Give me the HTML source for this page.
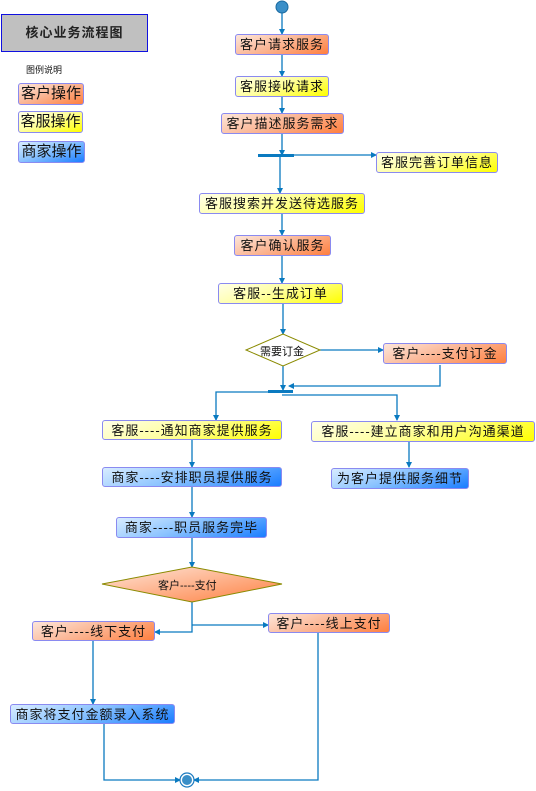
<!DOCTYPE html>
<html><head><meta charset="utf-8"><style>
body{margin:0;width:536px;height:791px;background:#fff;position:relative;overflow:hidden;font-family:"Liberation Sans","Noto Sans CJK SC",sans-serif;}
.b{position:absolute;box-sizing:border-box;border:1px solid #8a8af0;border-radius:3px;font-size:13px;line-height:19px;text-align:center;color:#111;white-space:nowrap;letter-spacing:1px;}
.o{background:linear-gradient(160deg,#fde6da 0%,#fbb898 45%,#ff7f3f 100%);}
.y{background:linear-gradient(160deg,#ffffe8 0%,#ffffa0 45%,#ffff00 100%);}
.u{background:linear-gradient(160deg,#d8ecff 0%,#8cc4ff 45%,#1a7dff 100%);}
svg{position:absolute;left:0;top:0}
.t{position:absolute;font-size:10px;color:#111;white-space:nowrap;}
.l{font-size:15px;line-height:20px;letter-spacing:0;}
</style></head><body>
<svg width="536" height="791">
<defs><marker id="a" markerWidth="6" markerHeight="6" refX="5" refY="3" orient="auto" markerUnits="userSpaceOnUse"><path d="M0,0L6,3L0,6z" fill="#0a7ac0"/></marker>
<linearGradient id="og" x1="0" y1="0" x2="1" y2="1"><stop offset="0" stop-color="#fde6da"/><stop offset="1" stop-color="#ff7f3f"/></linearGradient></defs>
<g stroke="#0a7ac0" stroke-width="1.3" fill="none">
<line x1="282" y1="13" x2="282" y2="34" marker-end="url(#a)"/>
<line x1="282" y1="55" x2="282" y2="76" marker-end="url(#a)"/>
<line x1="282" y1="97" x2="282" y2="113" marker-end="url(#a)"/>
<line x1="282" y1="134" x2="282" y2="155" marker-end="url(#a)"/>
<line x1="294" y1="155" x2="376" y2="155" marker-end="url(#a)"/>
<line x1="280" y1="157" x2="280" y2="193" marker-end="url(#a)"/>
<line x1="282" y1="214" x2="282" y2="235" marker-end="url(#a)"/>
<line x1="282" y1="256" x2="282" y2="283" marker-end="url(#a)"/>
<line x1="283" y1="304" x2="283" y2="334" marker-end="url(#a)"/>
<line x1="320" y1="350" x2="383" y2="350" marker-end="url(#a)"/>
<line x1="283" y1="366" x2="283" y2="390" marker-end="url(#a)"/>
<polyline points="440,365 440,386 289,386" marker-end="url(#a)"/>
<polyline points="268,392 216,392 216,420" marker-end="url(#a)"/>
<polyline points="282,395 397,395 397,420" marker-end="url(#a)"/>
<line x1="192" y1="440" x2="192" y2="467" marker-end="url(#a)"/>
<line x1="409" y1="442" x2="409" y2="467" marker-end="url(#a)"/>
<line x1="192" y1="487" x2="192" y2="517" marker-end="url(#a)"/>
<line x1="192" y1="538" x2="192" y2="567" marker-end="url(#a)"/>
<polyline points="192,602 192,632 155,632" marker-end="url(#a)"/>
<polyline points="192,625 268,625" marker-end="url(#a)"/>
<line x1="93" y1="641" x2="93" y2="704" marker-end="url(#a)"/>
<polyline points="104,724 104,780 180,780" marker-end="url(#a)"/>
<polyline points="318,633 318,780 194,780" marker-end="url(#a)"/>
</g>
<rect x="258" y="154" width="36" height="3" fill="#0a7ac0"/>
<rect x="268" y="390" width="25" height="3" fill="#0a7ac0"/>
<circle cx="282" cy="7" r="6" fill="#3a8fc8" stroke="#1a6aa0"/>
<circle cx="187" cy="780" r="7" fill="#fff" stroke="#1a7ac0" stroke-width="1.2"/>
<circle cx="187" cy="780" r="5" fill="#3a8fc8"/>
<polygon points="246,350 283,334 320,350 283,366" fill="#fff" stroke="#8a8a00"/>
<polygon points="102,584 192,567 282,584 192,602" fill="url(#og)" stroke="#8a8a00"/>
</svg>
<div style="position:absolute;left:1px;top:14px;width:147px;height:38px;box-sizing:border-box;border:1px solid #1010e0;background:#c0c0c0;font-size:13px;font-weight:bold;line-height:36px;text-align:center;color:#222;letter-spacing:1px;">核心业务流程图</div>
<div class="t" style="left:26px;top:63px;font-size:9px;">图例说明</div>
<div class="b o l" style="left:18px;top:83px;width:66px;height:22px;">客户操作</div>
<div class="b y l" style="left:18px;top:111px;width:65px;height:22px;">客服操作</div>
<div class="b u l" style="left:18px;top:141px;width:67px;height:22px;">商家操作</div>

<div class="b o" style="left:235px;top:34px;width:94px;height:21px;">客户请求服务</div>
<div class="b y" style="left:235px;top:76px;width:94px;height:21px;">客服接收请求</div>
<div class="b o" style="left:221px;top:113px;width:123px;height:21px;">客户描述服务需求</div>
<div class="b y" style="left:376px;top:152px;width:122px;height:21px;">客服完善订单信息</div>
<div class="b y" style="left:199px;top:193px;width:166px;height:21px;">客服搜索并发送待选服务</div>
<div class="b o" style="left:234px;top:235px;width:97px;height:21px;">客户确认服务</div>
<div class="b y" style="left:218px;top:283px;width:125px;height:21px;">客服--生成订单</div>
<div class="t" style="left:260px;top:343px;font-size:11px;">需要订金</div>
<div class="b o" style="left:383px;top:343px;width:124px;height:21px;">客户----支付订金</div>
<div class="b y" style="left:102px;top:420px;width:180px;height:20px;">客服----通知商家提供服务</div>
<div class="b y" style="left:311px;top:421px;width:224px;height:21px;">客服----建立商家和用户沟通渠道</div>
<div class="b u" style="left:102px;top:467px;width:180px;height:20px;">商家----安排职员提供服务</div>
<div class="b u" style="left:331px;top:468px;width:138px;height:21px;">为客户提供服务细节</div>
<div class="b u" style="left:116px;top:517px;width:151px;height:21px;">商家----职员服务完毕</div>
<div class="t" style="left:158px;top:577px;font-size:11px;">客户----支付</div>
<div class="b o" style="left:32px;top:621px;width:123px;height:20px;">客户----线下支付</div>
<div class="b o" style="left:268px;top:613px;width:122px;height:20px;">客户----线上支付</div>
<div class="b u" style="left:10px;top:704px;width:165px;height:20px;">商家将支付金额录入系统</div>
</body></html>
